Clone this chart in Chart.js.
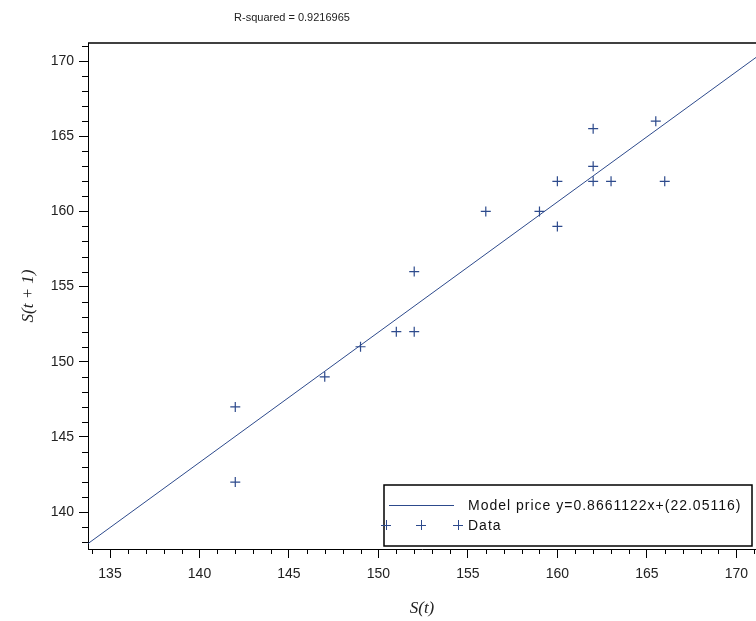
<!DOCTYPE html>
<html>
<head>
<meta charset="utf-8">
<script src="https://cdn.jsdelivr.net/npm/chart.js@4.4.1/dist/chart.umd.min.js"></script>
<style>
  html, body { margin: 0; padding: 0; background: #fff; }
</style>
</head>
<body>
<canvas id="fitChart" width="756" height="621"></canvas>
<script>
// observed prices S(t) and S(t+1)
const priceNow  = [142, 142, 147, 149, 151, 152, 152, 156, 159, 160, 160, 162, 162, 162, 163, 165.5, 166];
const priceNext = [147, 142, 149, 151, 152, 152, 156, 160, 160, 162, 159, 165.5, 163, 162, 162, 166, 162];

// fitted model line, end points
const fitX = [133.77, 171.1];
const fitY = [137.91, 170.24];

const titleText = "R-squared = 0.9216965";
const modelLabel = "Model price y=0.8661122x+(22.05116)";
const dataLabel = "Data";

const xRange = [133.77, 171.1];
const yRange = [137.55, 171.2];

const navy = "#2d4a8c";
const sansFont = "'Liberation Sans', Arial, sans-serif";

// extra drawing: title, top frame line, minor ticks, legend box
const decorations = {
    id: "decorations",
    afterDraw(chart) {
        const ctx = chart.ctx;
        const area = chart.chartArea;
        const xs = chart.scales.x;
        const ys = chart.scales.y;
        ctx.save();

        // title
        ctx.fillStyle = "#222";
        ctx.font = "11px " + sansFont;
        ctx.textAlign = "center";
        ctx.textBaseline = "middle";
        ctx.fillText(titleText, 292, 18);

        // top frame
        ctx.strokeStyle = "#000";
        ctx.lineWidth = 1.5;
        ctx.beginPath();
        ctx.moveTo(area.left, area.top);
        ctx.lineTo(area.right, area.top);
        ctx.stroke();

        // minor ticks every 1 unit
        ctx.lineWidth = 1;
        ctx.beginPath();
        for (let v = Math.ceil(xs.min); v <= xs.max; v++) {
            if (v % 5 === 0) continue;
            const px = Math.round(xs.getPixelForValue(v)) + 0.5;
            ctx.moveTo(px, area.bottom);
            ctx.lineTo(px, area.bottom + 5);
        }
        for (let v = Math.ceil(ys.min); v <= ys.max; v++) {
            if (v % 5 === 0) continue;
            const py = Math.round(ys.getPixelForValue(v)) + 0.5;
            ctx.moveTo(area.left, py);
            ctx.lineTo(area.left - 6, py);
        }
        ctx.stroke();

        // legend
        const boxR = area.right - 4, boxB = area.bottom - 3;
        const boxL = boxR - 368, boxT = boxB - 61;
        ctx.fillStyle = "#fff";
        ctx.fillRect(boxL, boxT, boxR - boxL, boxB - boxT);
        ctx.strokeStyle = "#000";
        ctx.lineWidth = 1.5;
        ctx.strokeRect(boxL, boxT, boxR - boxL, boxB - boxT);

        const row1 = boxT + 20, row2 = boxT + 40;
        ctx.strokeStyle = navy;
        ctx.lineWidth = 1;
        ctx.beginPath();
        ctx.moveTo(boxL + 5, row1 + 0.5);
        ctx.lineTo(boxL + 70, row1 + 0.5);
        [boxL + 2, boxL + 37, boxL + 74].forEach(cx => {
            ctx.moveTo(cx - 5, row2 + 0.5);
            ctx.lineTo(cx + 5, row2 + 0.5);
            ctx.moveTo(cx + 0.5, row2 - 5);
            ctx.lineTo(cx + 0.5, row2 + 5);
        });
        ctx.stroke();

        ctx.fillStyle = "#111";
        ctx.font = "14px " + sansFont;
        ctx.textAlign = "left";
        ctx.letterSpacing = "1px";
        ctx.fillText(modelLabel, boxL + 84, row1 + 1);
        ctx.fillText(dataLabel, boxL + 84, row2 + 1);
        ctx.restore();
    }
};

const ctx = document.getElementById("fitChart").getContext("2d");

const fitChart = new Chart(ctx, {
    type: "scatter",
    data: {
        datasets: [
            {
                label: modelLabel,
                data: fitX.map((x, i) => ({ x: x, y: fitY[i] })),
                showLine: true,
                borderColor: navy,
                borderWidth: 1,
                pointRadius: 0,
            },
            {
                label: dataLabel,
                data: priceNow.map((x, i) => ({ x: x, y: priceNext[i] })),
                pointStyle: "cross",
                pointRadius: 5,
                borderColor: navy,
                borderWidth: 1.2,
            },
        ],
    },
    options: {
        responsive: false,
        animation: false,
        layout: { autoPadding: false, padding: { top: 43, left: 0, right: 0, bottom: 0 } },
        plugins: {
            legend: { display: false },
            tooltip: { enabled: false },
        },
        scales: {
            x: {
                type: "linear",
                min: xRange[0],
                max: xRange[1],
                afterFit: scale => {
                    scale.height = 72;
                    scale.paddingLeft = 0;
                    scale.paddingRight = 0;
                },
                grid: { drawOnChartArea: false, tickLength: 9, color: "#000" },
                border: { color: "#000", width: 1 },
                ticks: {
                    stepSize: 5,
                    includeBounds: false,
                    autoSkip: false,
                    maxRotation: 0,
                    padding: 8,
                    color: "#222",
                    font: { family: sansFont, size: 14 },
                },
                title: {
                    display: true,
                    text: "S(t)",
                    color: "#222",
                    font: { family: "'Liberation Serif', 'Times New Roman', serif", size: 17, style: "italic" },
                    padding: { top: 0, bottom: 2 },
                },
            },
            y: {
                type: "linear",
                min: yRange[0],
                max: yRange[1],
                afterFit: scale => {
                    scale.width = 88;
                    scale.paddingTop = 0;
                    scale.paddingBottom = 0;
                },
                grid: { drawOnChartArea: false, tickLength: 9, color: "#000" },
                border: { color: "#000", width: 1 },
                ticks: {
                    stepSize: 5,
                    includeBounds: false,
                    autoSkip: false,
                    padding: 5,
                    color: "#222",
                    font: { family: sansFont, size: 14 },
                },
                title: {
                    display: true,
                    text: "S(t + 1)",
                    color: "#222",
                    font: { family: "'Liberation Serif', 'Times New Roman', serif", size: 17, style: "italic" },
                    padding: { top: 18, bottom: 0 },
                },
            },
        },
    },
    plugins: [decorations],
});
</script>
</body>
</html>
